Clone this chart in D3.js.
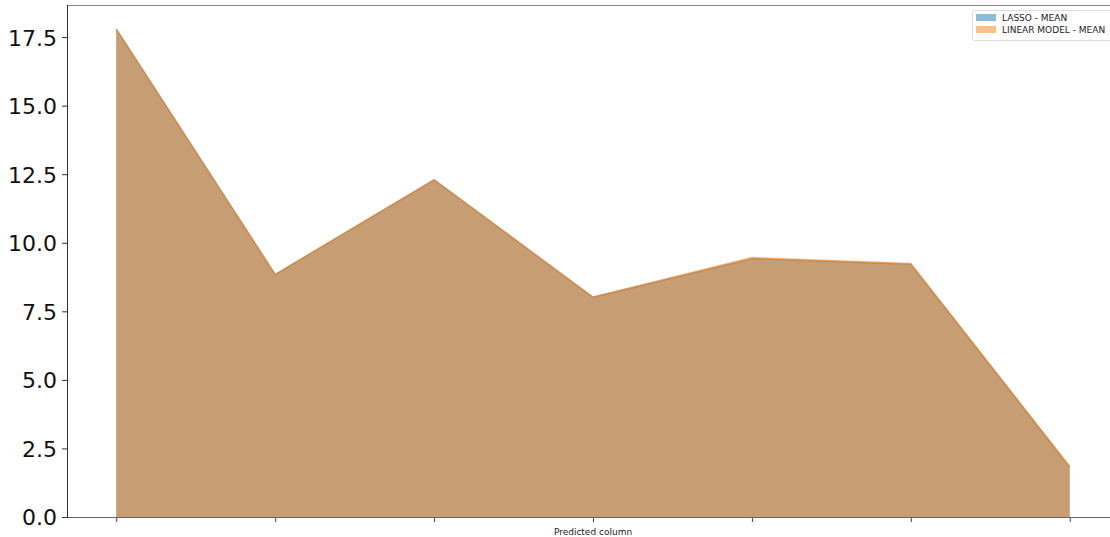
<!DOCTYPE html>
<html>
<head>
<meta charset="utf-8">
<script src="https://cdn.jsdelivr.net/npm/d3@7"></script>
<style>
  body { margin: 0; background: #fff; }
  svg { display: block; font-family: "DejaVu Sans", sans-serif; }
</style>
</head>
<body>
<svg id="chart" width="1110" height="537"></svg>
<script>
// Row positions along the x axis (no tick labels are shown)
const categories = [0, 1, 2, 3, 4, 5, 6];
const lassoMean = [17.79, 8.84, 12.29, 8.01, 9.42, 9.22, 1.82];
const linearMean = [17.80, 8.85, 12.30, 8.02, 9.46, 9.24, 1.85];
const seriesNames = ["LASSO - MEAN", "LINEAR MODEL - MEAN"];
const seriesColors = ["#1f77b4", "#ff7f0e"];
const yTicks = [0, 2.5, 5, 7.5, 10, 12.5, 15, 17.5];

const svg = d3.select("#chart");
const mLeft = 67, mRight = 1119, mTop = 5, mBottom = 517;

const x = d3.scaleLinear().domain([-0.31, 6.31]).range([mLeft, mRight]);
const y = d3.scaleLinear().domain([0, 18.67]).range([mBottom, mTop]);

const series = [lassoMean, linearMean];

const area = d3.area()
  .x((d, i) => x(categories[i]))
  .y0(y(0))
  .y1(d => y(d));
const line = d3.line()
  .x((d, i) => x(categories[i]))
  .y(d => y(d));

const plot = svg.append("g");
series.forEach((vals, k) => {
  plot.append("path")
    .datum(vals)
    .attr("d", area)
    .attr("fill", seriesColors[k])
    .attr("fill-opacity", 0.5);
  plot.append("path")
    .datum(vals)
    .attr("d", line)
    .attr("fill", "none")
    .attr("stroke", seriesColors[k])
    .attr("stroke-opacity", 0.5)
    .attr("stroke-width", 1.5);
});

// Y axis
const yAxis = d3.axisLeft(y)
  .tickValues(yTicks)
  .tickFormat(d3.format(".1f"))
  .tickSize(5)
  .tickPadding(5);
const gy = svg.append("g").attr("transform", `translate(${mLeft},0)`).call(yAxis);
gy.select(".domain").remove();
gy.selectAll(".tick line").attr("stroke", "#333").attr("stroke-width", 1);
gy.selectAll(".tick text")
  .attr("font-size", 22)
  .attr("fill", "#111")
  .attr("font-family", "DejaVu Sans, sans-serif")
  .attr("dy", "0.36em");

// X axis: tick marks only
const xAxis = d3.axisBottom(x)
  .tickValues(categories)
  .tickFormat("")
  .tickSize(5);
const gx = svg.append("g").attr("transform", `translate(0,${mBottom})`).call(xAxis);
gx.select(".domain").remove();
gx.selectAll(".tick line").attr("stroke", "#444").attr("stroke-width", 1);

// Spines
svg.append("line").attr("x1", mLeft).attr("x2", 1110).attr("y1", mTop + 0.5).attr("y2", mTop + 0.5)
  .attr("stroke", "#888").attr("stroke-width", 1);
svg.append("line").attr("x1", mLeft - 0.5).attr("x2", 1110).attr("y1", mBottom + 0.5).attr("y2", mBottom + 0.5)
  .attr("stroke", "#666").attr("stroke-width", 1);
svg.append("line").attr("x1", mLeft + 0.5).attr("x2", mLeft + 0.5).attr("y1", mTop).attr("y2", mBottom + 1)
  .attr("stroke", "#333").attr("stroke-width", 1);

// X axis title
svg.append("text")
  .attr("x", x(3))
  .attr("y", 535)
  .attr("text-anchor", "middle")
  .attr("font-size", 9)
  .attr("fill", "#222")
  .text("Predicted column");

// Legend
const lg = svg.append("g").attr("transform", "translate(972,10)");
lg.append("rect")
  .attr("x", 0.5).attr("y", 0.5).attr("width", 145).attr("height", 30).attr("rx", 2)
  .attr("fill", "#fff").attr("fill-opacity", 0.8)
  .attr("stroke", "#ddd");
seriesNames.forEach((name, k) => {
  lg.append("rect")
    .attr("x", 4).attr("y", 4 + k * 12)
    .attr("width", 20).attr("height", 7)
    .attr("fill", seriesColors[k]).attr("fill-opacity", 0.5);
  lg.append("text")
    .attr("x", 30).attr("y", 8 + k * 12)
    .attr("dy", "0.35em")
    .attr("font-size", 9)
    .attr("fill", "#222")
    .text(name);
});
</script>
</body>
</html>
